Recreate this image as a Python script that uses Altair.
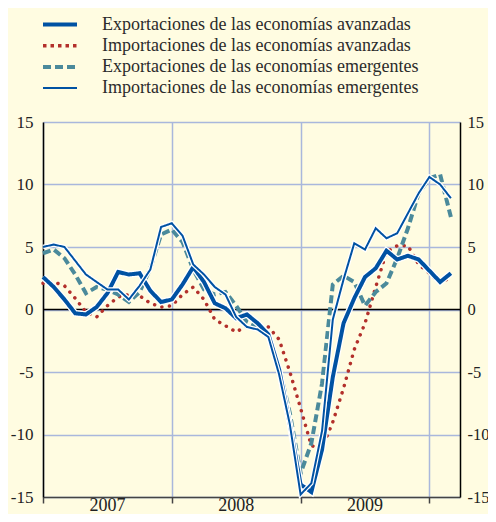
import altair as alt
import pandas as pd

series_names = [
    "Exportaciones de las economías avanzadas",
    "Importaciones de las economías avanzadas",
    "Exportaciones de las economías emergentes",
    "Importaciones de las economías emergentes",
]

# month index: 0 = enero 2007
months = list(range(39))

exp_avanzadas = [2.6, 1.8, 0.8, -0.3, -0.4, 0.2, 1.3, 3.0, 2.8, 2.9, 1.5, 0.6, 0.8,
                 2.0, 3.4, 2.2, 0.5, 0.1, -0.7, -0.4, -1.1, -2.0, -4.8, -9.2, -14.0,
                 -14.6, -11.2, -5.4, -1.1, 0.9, 2.6, 3.3, 4.7, 4.0, 4.3, 4.0, 3.1, 2.2, 2.9]
imp_avanzadas = [2.1, 2.2, 1.9, 0.9, -0.2, -0.6, 0.3, 1.0, 1.2, 1.1, 0.5, 0.2, 0.3,
                 1.2, 1.8, 0.8, -0.8, -1.3, -1.8, -1.3, -1.2, -1.4, -2.4, -5.0, -7.9,
                 -10.9, -11.1, -9.0, -6.3, -3.2, -1.1, 1.8, 4.6, 5.1, 5.1, 3.6, 2.9, 2.1, 2.6]
exp_emergentes = [4.5, 4.8, 4.1, 2.8, 1.3, 1.8, 1.6, 1.2, 0.6, 1.4, 3.3, 6.0, 6.4,
                  5.4, 3.2, 1.6, 1.2, 1.4, 0.3, -1.0, -1.4, -2.0, -4.6, -8.3, -13.1,
                  -10.7, -5.9, 2.0, 2.7, 2.2, 0.3, 1.4, 2.1, 4.1, 6.5, 9.3, 10.5, 10.8, 7.4]
imp_emergentes = [5.0, 5.2, 5.0, 3.9, 2.8, 2.2, 1.6, 1.6, 0.8, 1.9, 3.2, 6.6, 6.9,
                  5.9, 3.6, 2.8, 1.8, 1.2, -0.6, -1.4, -1.6, -2.2, -5.2, -9.2, -14.8,
                  -13.9, -9.7, -0.8, 2.4, 5.3, 4.8, 6.5, 5.7, 6.1, 7.7, 9.3, 10.6, 10.0, 8.9]

year_labels = ["2007", "2008", "2009"]
year_mid = [6, 18, 30]
year_starts = [0, 12, 24, 36]
y_ticks = [-15, -10, -5, 0, 5, 10, 15]
zero_line = [0]

colors = ["#0052A3", "#B3302B", "#4B8A9B", "#0052A3"]
dashes = [[1, 0], [3.5, 4], [8, 4], [1, 0]]
widths = [4, 3.5, 4, 2]

df = pd.DataFrame({
    "mes": months * 4,
    "serie": [s for s in series_names for _ in months],
    "valor": exp_avanzadas + imp_avanzadas + exp_emergentes + imp_emergentes,
})
years_df = pd.DataFrame({"mid": year_mid, "label": year_labels})
zero_df = pd.DataFrame({"v": zero_line})

W, H = 417, 375
FONT = "Liberation Serif"
GRID = "#A9B7DC"

xscale = alt.Scale(domain=[0, 38.85], nice=False, zero=False)
yscale = alt.Scale(domain=[-15, 15], nice=False, zero=False)

legend = alt.Legend(
    title=None, orient="none", legendX=-2, legendY=-105.5,
    symbolType="stroke", symbolSize=1156, clipHeight=16, rowPadding=3.2,
    labelOffset=23, labelFont=FONT, labelFontSize=18, labelColor="#2b2b2b",
    labelLimit=0, padding=0,
)

left_axis = alt.Axis(
    values=y_ticks, grid=True, gridColor=GRID, gridWidth=1.5, ticks=False,
    domain=True, domainColor="#000000", domainWidth=1.5, labelPadding=10,
    labelFont=FONT, labelFontSize=17, labelColor="#222222", title=None,
    labelExpr="'' + datum.value",
)
right_axis = alt.Axis(
    values=y_ticks, grid=False, ticks=False, domain=True, domainColor="#000000",
    domainWidth=1.5, orient="right", labelAlign="left", labelPadding=7,
    labelFont=FONT, labelFontSize=16.5, labelColor="#222222", title=None,
    labelExpr="'' + datum.value",
)
x_axis = alt.Axis(
    values=year_starts, grid=True, gridColor=GRID, gridWidth=1.5, labels=False,
    ticks=True, tickSize=6, tickColor="#444444", tickWidth=1.5, domain=True,
    domainColor="#444444", domainWidth=1.5, title=None,
)

color = alt.Color("serie:N", sort=series_names,
                  scale=alt.Scale(domain=series_names, range=colors), legend=legend)
dash = alt.StrokeDash("serie:N", sort=series_names,
                      scale=alt.Scale(domain=series_names, range=dashes), legend=legend)
swidth = alt.StrokeWidth("serie:N", sort=series_names,
                         scale=alt.Scale(type="ordinal", domain=series_names, range=widths),
                         legend=legend)

base = alt.Chart(df)


def sel(i):
    return alt.datum.serie == series_names[i]


zero = alt.Chart(zero_df).mark_rule(color="#000000", strokeWidth=1.5).encode(
    y=alt.Y("v:Q", scale=yscale, axis=None),
)
ia = base.transform_filter(sel(1)).mark_line(strokeCap="round").encode(
    x=alt.X("mes:Q", scale=xscale, axis=x_axis),
    y=alt.Y("valor:Q", scale=yscale, axis=left_axis),
    color=color, strokeWidth=swidth,
    strokeDash=alt.value([0.1, 7.5]),
)
ee = base.transform_filter(sel(2)).mark_line(strokeCap="butt").encode(
    x=alt.X("mes:Q", scale=xscale, axis=None),
    y=alt.Y("valor:Q", scale=yscale, axis=right_axis),
    color=color, strokeDash=dash, strokeWidth=swidth,
)
ea_halo = base.transform_filter(sel(0)).mark_line(color="white", strokeWidth=6.5).encode(
    x=alt.X("mes:Q", scale=xscale, axis=None),
    y=alt.Y("valor:Q", scale=yscale, axis=None),
)
ea = base.transform_filter(sel(0)).mark_line().encode(
    x=alt.X("mes:Q", scale=xscale, axis=None),
    y=alt.Y("valor:Q", scale=yscale, axis=None),
    color=color, strokeDash=dash, strokeWidth=swidth,
)
ie_halo = base.transform_filter(sel(3)).mark_line(color="white", strokeWidth=4.5).encode(
    x=alt.X("mes:Q", scale=xscale, axis=None),
    y=alt.Y("valor:Q", scale=yscale, axis=None),
)
ie = base.transform_filter(sel(3)).mark_line().encode(
    x=alt.X("mes:Q", scale=xscale, axis=None),
    y=alt.Y("valor:Q", scale=yscale, axis=None),
    color=color, strokeDash=dash, strokeWidth=swidth,
)
years = alt.Chart(years_df).mark_text(
    font=FONT, fontSize=18, color="#222222", baseline="alphabetic", align="center"
).encode(
    x=alt.X("mid:Q", scale=xscale, axis=None),
    y=alt.value(H + 14),
    text="label:N",
)

chart = alt.layer(zero, ia, ee, ea_halo, ea, ie_halo, ie, years).resolve_axis(
    x="independent", y="independent"
).properties(
    width=W, height=H,
    autosize=alt.AutoSizeParams(type="none"),
    padding={"left": 35, "top": 114, "right": 28, "bottom": 17},
    background="#FFFCE1",
).configure_view(stroke=None)

chart.save("out.html", embed_options={"renderer": "svg", "actions": False})
